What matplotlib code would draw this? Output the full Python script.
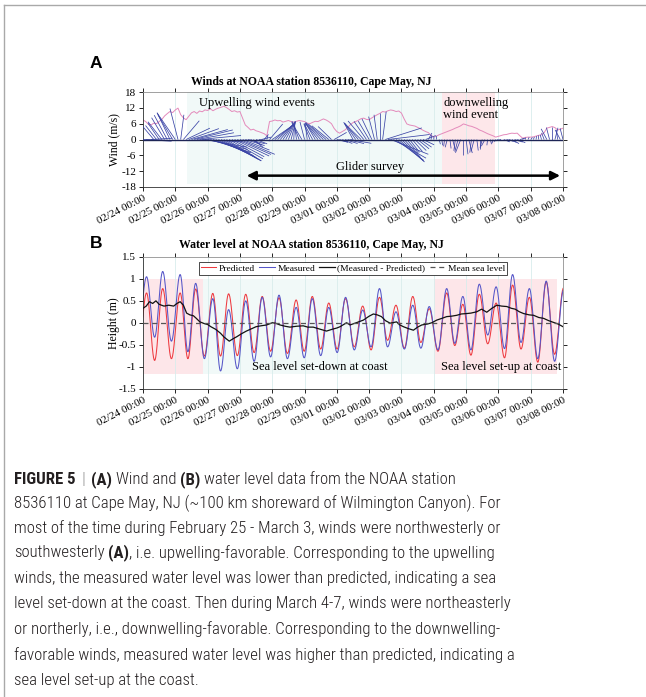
import numpy as np
import matplotlib
matplotlib.use("Agg")
import matplotlib.pyplot as plt
from matplotlib.collections import LineCollection
from matplotlib.lines import Line2D
from matplotlib import font_manager as fm

# ------------------------------------------------------------------ data
tick_labels = ["02/24 00:00", "02/25 00:00", "02/26 00:00", "02/27 00:00",
               "02/28 00:00", "02/29 00:00", "03/01 00:00", "03/02 00:00",
               "03/03 00:00", "03/04 00:00", "03/05 00:00", "03/06 00:00",
               "03/07 00:00", "03/08 00:00"]

# wind, every 2 hours from 02/24 00:00 (days since start)
wind_time = np.arange(157) / 12.0
wind_speed = [
    7.4, 6.8, 5.8, 5.5, 6.2, 6.0, 6.8, 7.6, 8.9, 9.8, 10.6, 10.2,
    11.2, 11.9, 9.4, 8.2, 7.5, 8.8, 10.1, 10.6, 9.9, 10.8, 10.5, 11.2,
    11.0, 11.6, 10.9, 11.5, 11.9, 12.2, 12.6, 12.1, 11.4, 10.6, 10.9, 10.4,
    10.6, 8.0, 5.5, 4.6, 3.6, 3.9, 3.3, 3.0, 2.6, 2.2, 1.4, 6.8,
    7.0, 7.4, 7.1, 7.2, 6.6, 6.9, 7.2, 6.8, 6.5, 6.9, 7.2, 7.0,
    6.8, 6.2, 6.0, 6.5, 6.9, 6.8, 7.3, 7.8, 7.4, 6.8, 6.0, 4.2,
    3.0, 2.4, 3.0, 3.6, 4.5, 5.6, 6.4, 6.8, 7.3, 7.9, 8.1, 7.6,
    7.5, 8.2, 8.8, 9.4, 9.9, 10.6, 10.4, 10.9, 11.2, 11.0, 10.6, 10.8,
    10.0, 7.8, 5.9, 5.5, 5.3, 5.1, 4.6, 4.1, 3.5, 3.0, 2.6, 1.6,
    0.9, 1.3, 1.8, 2.2, 2.6, 3.0, 3.4, 3.8, 4.3, 4.7, 5.2, 5.9,
    5.6, 5.2, 5.0, 4.6, 4.2, 3.6, 3.2, 2.7, 2.2, 1.8, 1.4, 0.9,
    1.2, 1.5, 1.8, 1.9, 2.2, 2.4, 2.3, 2.4, 1.4, 0.5, 0.8, 0.9,
    0.9, 1.0, 1.3, 1.6, 1.8, 2.6, 4.3, 4.6, 4.9, 4.5, 3.6, 3.9,
    4.3]
# stick direction (degrees, counter-clockwise from east)
wind_dir = [
    -5, -3, 0, 5, 120, 118, 115, 118, 112, 110, 108, 112,
    115, 100, 85, 60, 35, 28, 22, 20, 15, 8, -5, -15,
    -20, -25, -28, -32, -35, -38, -40, -42, -40, -38, -35, -33,
    -32, -30, -25, -20, -35, -50, -30, -10, 20, 60, 80, 60,
    45, 50, 55, 60, 65, 70, 75, 80, 88, 95, 105, 112,
    100, 95, 105, 110, 112, 118, 122, 125, 128, 130, 125, 40,
    -20, -25, -30, -25, -20, -15, 110, 115, 120, 125, 120, 115,
    112, 108, 100, 95, 90, 85, 25, 10, -30, -40, -48, -52,
    -55, -58, -60, -62, -60, -55, -50, -45, -35, 30, 70, 85,
    88, 92, -80, -85, -95, -100, -85, -80, -95, -100, -105, -90,
    -85, -80, -95, -100, -85, -90, -100, -110, -95, -80, -100, -120,
    -150, -160, -30, -20, -30, -40, -25, -30, 20, 60, 80, 70,
    60, 75, 85, 95, 100, 105, 110, 100, 90, 80, 95, 110,
    100]

# tidal highs / lows (days since start)
tide_time = [-0.15, 0.11, 0.36, 0.61, 0.88, 1.15, 1.39, 1.63, 1.90, 2.16,
             2.40, 2.65, 2.92, 3.18, 3.44, 3.69, 3.95, 4.21, 4.47, 4.74,
             4.99, 5.24, 5.50, 5.75, 6.01, 6.27, 6.54, 6.80, 7.06, 7.32,
             7.57, 7.83, 8.09, 8.35, 8.60, 8.86, 9.13, 9.40, 9.65, 9.90,
             10.15, 10.41, 10.67, 10.93, 11.19, 11.44, 11.70, 11.96, 12.22, 12.48,
             12.74, 13.02]
predicted = [-0.70, 0.68, -0.86, 0.78, -0.82, 0.68, -0.82, 0.77, -0.76, 0.67,
             -0.76, 0.66, -0.75, 0.65, -0.68, 0.60, -0.65, 0.57, -0.70, 0.52,
             -0.65, 0.60, -0.60, 0.45, -0.60, 0.55, -0.55, 0.38, -0.62, 0.58,
             -0.40, 0.40, -0.58, 0.60, -0.45, 0.32, -0.65, 0.68, -0.52, 0.42,
             -0.74, 0.65, -0.48, 0.45, -0.80, 0.86, -0.60, 0.58, -0.90, 0.93,
             -0.72, 0.80]
measured = [-0.20, 1.05, -0.33, 1.17, -0.42, 1.10, -0.66, 0.90, -0.82, 0.55,
            -1.10, 0.30, -1.05, 0.50, -0.88, 0.58, -0.78, 0.63, -0.82, 0.35,
            -0.80, 0.55, -0.75, 0.35, -0.68, 0.58, -0.62, 0.29, -0.55, 0.78,
            -0.55, 0.25, -0.60, 0.40, -0.58, 0.37, -0.62, 0.78, -0.47, 0.60,
            -0.62, 0.88, -0.28, 0.82, -0.59, 1.10, -0.45, 0.78, -0.82, 0.95,
            -0.88, 0.75]

resid_time = [0.0, 0.1, 0.2, 0.3, 0.4, 0.5, 0.65, 0.8, 0.95, 1.05,
              1.15, 1.25, 1.35, 1.45, 1.56, 1.65, 1.76, 1.9, 2.0, 2.1,
              2.25, 2.4, 2.5, 2.6, 2.67, 2.8, 2.9, 3.05, 3.2, 3.35,
              3.5, 3.65, 3.83, 4.0, 4.1, 4.24, 4.4, 4.55, 4.75, 4.96,
              5.1, 5.27, 5.45, 5.68, 5.85, 6.0, 6.1, 6.3, 6.41, 6.6,
              6.82, 7.0, 7.13, 7.25, 7.38, 7.5, 7.65, 7.85, 7.95, 8.06,
              8.2, 8.37, 8.5, 8.63, 8.8, 8.94, 9.09, 9.25, 9.4, 9.55,
              9.71, 9.85, 10.02, 10.15, 10.33, 10.48, 10.64, 10.8, 10.95, 11.1,
              11.26, 11.4, 11.52, 11.65, 11.78, 11.95, 12.09, 12.25, 12.4, 12.55,
              12.66, 12.85, 13.0]
residual = [0.33, 0.38, 0.48, 0.44, 0.50, 0.42, 0.38, 0.40, 0.38, 0.44,
            0.48, 0.40, 0.22, 0.18, 0.16, 0.10, 0.02, -0.02, -0.04, -0.09,
            -0.15, -0.24, -0.32, -0.38, -0.42, -0.36, -0.32, -0.25, -0.19, -0.14,
            -0.09, -0.07, -0.05, 0.0, -0.01, -0.05, -0.08, -0.10, -0.08, -0.07,
            -0.10, -0.10, -0.14, -0.19, -0.15, -0.12, -0.09, 0.0, -0.05, 0.0,
            0.06, 0.15, 0.20, 0.18, 0.14, 0.05, -0.01, 0.02, -0.05, -0.09,
            -0.13, -0.17, -0.10, -0.05, -0.03, 0.0, 0.06, 0.10, 0.14, 0.15,
            0.17, 0.20, 0.21, 0.22, 0.25, 0.31, 0.24, 0.33, 0.40, 0.38,
            0.37, 0.33, 0.31, 0.25, 0.21, 0.18, 0.17, 0.12, 0.10, 0.05,
            0.02, -0.03, -0.09]

# event periods (days since start)
wind_up_span = (1.35, 9.25)
wind_down_span = (9.25, 10.9)
level_down_span_a = (0.0, 1.87)
level_mid_span = (1.87, 9.0)
level_up_span = (9.0, 12.8)
glider_span = (3.21, 12.91)

caption_lines = [
    [("FIGURE 5", "b", True), ("|", "sep", True), ("(A)", "b", True),
     ("Wind and", "n", True), ("(B)", "b", True),
     ("water level data from the NOAA station", "n", False)],
    [("8536110 at Cape May, NJ (~100 km shoreward of Wilmington Canyon). For", "n", False)],
    [("most of the time during February 25 - March 3, winds were northwesterly or", "n", False)],
    [("southwesterly", "n", True), ("(A)", "b", False),
     (", i.e. upwelling-favorable. Corresponding to the upwelling", "n", False)],
    [("winds, the measured water level was lower than predicted, indicating a sea", "n", False)],
    [("level set-down at the coast. Then during March 4-7, winds were northeasterly", "n", False)],
    [("or northerly, i.e., downwelling-favorable. Corresponding to the downwelling-", "n", False)],
    [("favorable winds, measured water level was higher than predicted, indicating a", "n", False)],
    [("sea level set-up at the coast.", "n", False)],
]

# ------------------------------------------------------------------ fonts
W, H = 646, 697
SERIF = "Liberation Serif"


def pick_caption_font(bold):
    prio = ["liberation", "roboto", "open", "noto", "lato", "dejavu"]
    target = 700 if bold else 300
    best = None
    for f in fm.fontManager.ttflist:
        nm, fn = f.name.lower(), f.fname.lower()
        if f.style != "normal" or "mono" in nm or "serif" in nm or "cjk" in nm:
            continue
        tag = nm + " " + fn.split("/")[-1]
        st = str(f.stretch).lower()
        narrow = ("narrow" in tag or "condensed" in tag or st in ("condensed", "semi-condensed"))
        if not narrow or "extra" in tag or "ultra" in tag or "italic" in tag:
            continue
        w = f.weight if isinstance(f.weight, (int, float)) else fm.weight_dict.get(str(f.weight), 400)
        if bold and not (600 <= w <= 750):
            continue
        if not bold and not (280 <= w <= 450):
            continue
        semi = "semi" in tag or st == "semi-condensed"
        rank = next((i for i, p in enumerate(prio) if p in nm), len(prio))
        key = (rank, semi, abs(w - target))
        if best is None or key < best[0]:
            best = (key, f.fname)
    if best is None:
        return fm.FontProperties(family="Liberation Sans", weight="bold" if bold else "normal")
    return fm.FontProperties(fname=best[1])


cap_regular = pick_caption_font(False)
cap_bold = pick_caption_font(True)

fig = plt.figure(figsize=(W / 100, H / 100), dpi=100)
fig.patch.set_facecolor("white")


def px_axes(left, top, right, bottom):
    return fig.add_axes([left / W, 1 - bottom / H, (right - left) / W, (bottom - top) / H])


def style_axes(ax):
    for s in ax.spines.values():
        s.set_linewidth(0.6)
        s.set_color("#303030")
    ax.spines["top"].set_color("#909090")
    ax.spines["right"].set_color("#909090")
    ax.tick_params(direction="out", length=3, width=0.6, top=True, right=True,
                   labeltop=False, labelright=False, labelsize=8, pad=2)
    for lab in ax.get_yticklabels():
        lab.set_fontfamily(SERIF)
    ax.set_xlim(0, 13)
    ax.set_xticks(np.arange(len(tick_labels)))
    ax.set_xticklabels(tick_labels, rotation=27, ha="right", rotation_mode="anchor",
                       fontfamily=SERIF, fontsize=8)
    ax.grid(axis="x", color="#d8ecec", lw=0.6, zorder=0)
    ax.set_axisbelow(True)


# ------------------------------------------------------------------ panel A
axA = px_axes(143, 92, 563, 187)
axA.set_ylim(-18, 18)
axA.set_yticks([18, 12, 6, 0, -6, -12, -18])
axA.set_yticklabels(["18", "12", "6", "0", "-6", "-12", "-18"])
style_axes(axA)
axA.axvspan(*wind_up_span, ymin=0.03, ymax=1, color="#f1f9f8", lw=0, zorder=0.5)
axA.axvspan(*wind_down_span, ymin=0.03, ymax=1, color="#fde7ea", lw=0, zorder=0.5)

spd = np.array(wind_speed)
ang = np.deg2rad(np.array(wind_dir))
u = spd * np.cos(ang)
v = spd * np.sin(ang)
stick_scale = 0.12  # days of x per m/s of eastward component
segs = [[(t, 0.0), (t + uu * stick_scale, vv)] for t, uu, vv in zip(wind_time, u, v)]
axA.add_collection(LineCollection(segs, colors="#3a44a6", linewidths=0.55, zorder=3))
axA.plot(wind_time, wind_speed, color="#e48abb", lw=0.7, zorder=2)
axA.axhline(0, color="#1e2556", lw=1.0, zorder=4)

axA.set_ylabel("Wind (m/s)", fontfamily=SERIF, fontsize=8.5)
axA.yaxis.set_label_coords(-0.055, 0.5)
axA.text(0.4, 1.108, "Winds at NOAA station 8536110, Cape May, NJ", transform=axA.transAxes,
         ha="center", va="center", fontfamily=SERIF, fontweight="bold", fontsize=8.5)
axA.text(3.52, 14.0, "Upwelling wind events", ha="center", va="center",
         fontfamily=SERIF, fontsize=9, zorder=5)
axA.text(9.29, 11.5, "downwelling\nwind event", ha="left", va="center",
         fontfamily=SERIF, fontsize=9, linespacing=1.05, zorder=5)
axA.text(7.03, -10.6, "Glider survey", ha="center", va="center",
         fontfamily=SERIF, fontsize=9, zorder=5)
axA.annotate("", xy=(glider_span[1], -13.7), xytext=(glider_span[0], -13.7),
             arrowprops=dict(arrowstyle="<|-|>", lw=1.8, color="black",
                             mutation_scale=13, shrinkA=0, shrinkB=0), zorder=5)

# ------------------------------------------------------------------ panel B
axB = px_axes(143, 257, 563, 388.5)
axB.set_ylim(-1.5, 1.5)
axB.set_yticks([1.5, 1, 0.5, 0, -0.5, -1, -1.5])
axB.set_yticklabels(["1.5", "1", "0.5", "0", "-0.5", "-1", "-1.5"])
style_axes(axB)
for span, col in [(level_down_span_a, "#fde6e9"), (level_mid_span, "#f1f9f8"),
                  (level_up_span, "#fde6e9")]:
    axB.fill_between(span, -1.17, 1.0, color=col, lw=0, zorder=0.5)


def tide_curve(tx, ty, n=30):
    xs, ys = [], []
    for i in range(len(tx) - 1):
        s = np.linspace(0, 1, n, endpoint=False)
        xs.append(tx[i] + (tx[i + 1] - tx[i]) * s)
        ys.append(ty[i] + (ty[i + 1] - ty[i]) * (1 - np.cos(np.pi * s)) / 2)
    xs.append([tx[-1]])
    ys.append([ty[-1]])
    return np.concatenate(xs), np.concatenate(ys)


xp, yp = tide_curve(tide_time, predicted)
xm, ym = tide_curve(tide_time, measured)
axB.plot(xp, yp, color="#ee3a40", lw=0.75, label="Predicted", zorder=2)
axB.plot(xm, ym, color="#5656c8", lw=0.75, label="Measured", zorder=2.5)
axB.plot(resid_time, residual, color="#111111", lw=0.9, label="(Measured - Predicted)", zorder=3)
axB.axhline(0, color="#555555", lw=0.9, ls=(0, (4, 3)), label="Mean sea level", zorder=3)

leg = axB.legend(loc="upper center", bbox_to_anchor=(0.5, 0.965), ncol=4,
                 prop={"family": SERIF, "size": 6.8}, frameon=True, fancybox=False,
                 edgecolor="black", framealpha=1, borderpad=0.25, handlelength=1.6,
                 handletextpad=0.3, columnspacing=0.45, borderaxespad=0)
leg.get_frame().set_linewidth(0.5)

axB.set_ylabel("Height (m)", fontfamily=SERIF, fontsize=8.5)
axB.yaxis.set_label_coords(-0.055, 0.5)
axB.text(0.4, 1.091, "Water level at NOAA station 8536110, Cape May, NJ", transform=axB.transAxes,
         ha="center", va="center", fontfamily=SERIF, fontweight="bold", fontsize=8.5)
axB.text(5.48, -1.0, "Sea level set-down at coast", ha="center", va="center",
         fontfamily=SERIF, fontsize=9, zorder=5)
axB.text(11.1, -1.0, "Sea level set-up at coast", ha="center", va="center",
         fontfamily=SERIF, fontsize=9, zorder=5)

# panel letters
fig.text(96 / W, 1 - 63 / H, "A", fontfamily="Liberation Sans", fontweight="bold",
         fontsize=12.5, ha="center", va="center")
fig.text(96 / W, 1 - 243 / H, "B", fontfamily="Liberation Sans", fontweight="bold",
         fontsize=12.5, ha="center", va="center")

# frame lines
fig.add_artist(Line2D([3.5 / W, 3.5 / W], [0, 1 - 5 / H], transform=fig.transFigure,
                      color="#a9a9a9", lw=1.0))
fig.add_artist(Line2D([3.5 / W, 1], [1 - 5 / H, 1 - 5 / H], transform=fig.transFigure,
                      color="#a9a9a9", lw=1.0))

# ------------------------------------------------------------------ caption
renderer = fig.canvas.get_renderer()


def text_w(s, fp):
    t = fig.text(0, 0, s, fontproperties=fp)
    w = t.get_window_extent(renderer=renderer).width
    t.remove()
    return w


# choose a size so the longest caption line spans the same width as in the figure
base = 12.0
cap_regular.set_size(base)
w_ref = text_w(caption_lines[5][0][0], cap_regular)
cap_size = min(13.2, base * 499.0 / w_ref)
cap_regular.set_size(cap_size)
cap_bold.set_size(cap_size)

space_w = text_w("x x", cap_regular) - text_w("xx", cap_regular)
line_y = [480, 503.5, 528, 553, 578, 603.5, 629, 655, 681]
for segs_line, yc in zip(caption_lines, line_y):
    x = 14.0
    for txt, kind, sp in segs_line:
        fp = cap_bold if kind == "b" else cap_regular
        color = "#9a9a9a" if kind == "sep" else "#231f20"
        t = fig.text(x / W, 1 - yc / H, txt, fontproperties=fp,
                     color=color, ha="left", va="center")
        x += t.get_window_extent(renderer=renderer).width
        if sp:
            x += space_w * (1.6 if kind == "sep" or txt == "FIGURE 5" else 1.0)

fig.savefig("out.png", dpi=100, facecolor="white")
